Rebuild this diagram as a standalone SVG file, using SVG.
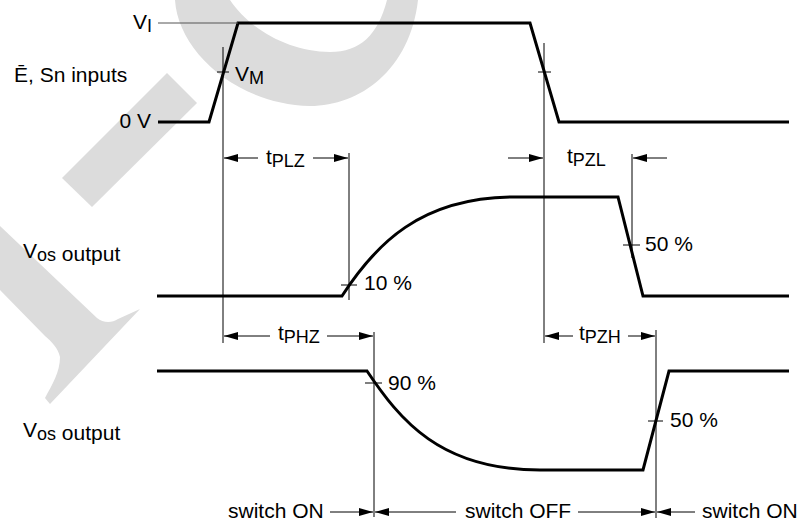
<svg xmlns="http://www.w3.org/2000/svg" width="797" height="524" viewBox="0 0 797 524">
  <defs>
    <marker id="ah" viewBox="0 0 14 8" refX="14" refY="4" markerWidth="14" markerHeight="8" markerUnits="userSpaceOnUse" orient="auto">
      <path d="M0,0 L14,4 L0,8 Z" fill="#000"/>
    </marker>
    <style>
      .wm { fill: #dcdcdc; stroke: none; }
      .sig { fill: none; stroke: #000; stroke-width: 3; stroke-linejoin: miter; }
      .thin { fill: none; stroke: #000; stroke-width: 1; }
      .ref { fill: none; stroke: #555; stroke-width: 1; }
      .dim { fill: none; stroke: #000; stroke-width: 1; marker-end: url(#ah); }
      text { font-family: "Liberation Sans", Arial, sans-serif; font-size: 21px; fill: #000; }
      .sub { font-size: 18px; }
    </style>
  </defs>
  <rect width="797" height="524" fill="#fff"/>

  <g id="watermark">
    <path class="wm" d="M175,0 C178,50 235,104 310,106 C360,106 410,70 418,0 L387,0 C378,35 360,52 330,52 C290,52 250,30 230,0 Z"/>
    <polygon class="wm" points="167,73 197,103 92,207 62,178"/>
    <path class="wm" d="M0,226 L97,318 C103,323 112,323 118,319 L140,309 L50,404 L45,398 C52,385 60,372 60,357 C58,348 52,342 45,336 L0,290 Z"/>
  </g>

  <g id="input-signal">
    <path class="sig" d="M158,122 L209,122 L238,23 L530,23 L559,122 L789,122"/>
    <line class="ref" x1="158" y1="23" x2="238" y2="23"/>
    <line class="thin" x1="217" y1="72" x2="229" y2="72"/>
    <line class="thin" x1="538" y1="72" x2="551" y2="72"/>
  </g>

  <g id="output-1">
    <path class="sig" d="M157,296 L342,296 C375,245 420,197 515,197 L618,197 L643,296 L789,296"/>
    <line class="thin" x1="341" y1="285" x2="357" y2="285"/>
    <line class="thin" x1="623" y1="245" x2="640" y2="245"/>
  </g>

  <g id="output-2">
    <path class="sig" d="M157,371 L367,371 C400,420 440,470 540,470 L643,470 L669,371 L789,371"/>
    <line class="thin" x1="365" y1="383" x2="382" y2="383"/>
    <line class="thin" x1="648" y1="421" x2="663" y2="421"/>
  </g>

  <g id="connectors">
    <line class="thin" x1="223" y1="47" x2="223" y2="343"/>
    <line class="thin" x1="349" y1="153" x2="349" y2="300"/>
    <line class="thin" x1="544" y1="43" x2="544" y2="343"/>
    <line class="thin" x1="632" y1="154" x2="632" y2="258"/>
    <line class="thin" x1="374" y1="332" x2="374" y2="517"/>
    <line class="thin" x1="656" y1="330" x2="656" y2="518"/>

    <line class="dim" x1="258" y1="158" x2="224" y2="158"/>
    <line class="dim" x1="313" y1="158" x2="348" y2="158"/>
    <line class="dim" x1="508" y1="158" x2="543" y2="158"/>
    <line class="dim" x1="667" y1="158" x2="633" y2="158"/>

    <line class="dim" x1="270" y1="336" x2="224" y2="336"/>
    <line class="dim" x1="327" y1="336" x2="373" y2="336"/>
    <line class="dim" x1="573" y1="336" x2="545" y2="336"/>
    <line class="dim" x1="628" y1="336" x2="655" y2="336"/>

    <line class="dim" x1="330" y1="512" x2="373" y2="512"/>
    <line class="dim" x1="456" y1="512" x2="375" y2="512"/>
    <line class="dim" x1="578" y1="512" x2="655" y2="512"/>
    <line class="dim" x1="695" y1="512" x2="657" y2="512"/>
  </g>

  <g id="labels">
    <text x="133" y="29">V<tspan class="sub" dy="3">I</tspan></text>
    <text x="14" y="82">Ē, Sn inputs</text>
    <text x="151" y="128" text-anchor="end">0 V</text>
    <text x="235" y="81">V<tspan class="sub" dy="3">M</tspan></text>
    <text x="23" y="258">V<tspan class="sub" dy="3">os</tspan> output</text>
    <text x="23" y="437">V<tspan class="sub" dy="3">os</tspan> output</text>
    <text x="266" y="164">t<tspan class="sub" dy="3">PLZ</tspan></text>
    <text x="567" y="163">t<tspan class="sub" dy="3">PZL</tspan></text>
    <text x="278" y="340">t<tspan class="sub" dy="3">PHZ</tspan></text>
    <text x="579" y="340">t<tspan class="sub" dy="3">PZH</tspan></text>
    <text x="364" y="290">10 %</text>
    <text x="645" y="251">50 %</text>
    <text x="388" y="390">90 %</text>
    <text x="670" y="427">50 %</text>
    <text x="228" y="518">switch ON</text>
    <text x="465" y="518">switch OFF</text>
    <text x="702" y="518">switch ON</text>
  </g>
</svg>
